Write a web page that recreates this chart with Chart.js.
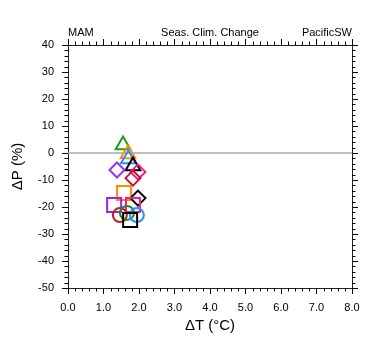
<!DOCTYPE html>
<html>
<head>
<meta charset="utf-8">
<script src="https://cdn.jsdelivr.net/npm/chart.js@4/dist/chart.umd.min.js"></script>
<style>
  html, body { margin: 0; padding: 0; background: #fff; }
  #wrap { width: 380px; height: 355px; position: relative; }
</style>
</head>
<body>
<div id="wrap"><canvas id="c"></canvas></div>
<script>
// ---- data ----
const deltaT = [1.55, 1.69, 1.70, 1.83, 1.38, 1.97, 1.83, 1.58, 1.97, 1.30, 1.83, 1.46, 1.66, 1.94, 1.75];
const deltaP = [3.0, -0.4, -2.2, -4.8, -6.3, -7.0, -9.3, -14.8, -16.7, -19.3, -19.3, -23.0, -22.2, -23.0, -24.8];
const markerShapes = ['triangle','triangle','triangle','triangle','rectRot','rectRot','rectRot','rect','rectRot','rect','rect','circle','circle','circle','rect'];
const markerColors = ['#229922','#ff8c00','#1e90ff','#000000','#a030f0','#ff1493','#c41230','#ff8c00','#000000','#a020f0','#ff1493','#b22222','#228b22','#1e90ff','#000000'];
const zeroLineX = [0, 8];
const zeroLineY = [0, 0];
const xTickRange = [0, 8];
const yTickRange = [-50, 40];
const headerLeft = 'MAM';
const headerCenter = 'Seas. Clim. Change';
const headerRight = 'PacificSW';
const xTitle = '\u0394T (\u00B0C)';
const yTitle = '\u0394P (%)';

const FONT = '"Liberation Sans", Arial, Helvetica, sans-serif';
const radiusFor = s => ({triangle: 8.5, rectRot: 7.5, rect: 9.9, circle: 7}[s]);

const points = deltaT.map((x, i) => ({x: x, y: deltaP[i]}));
const zeroLine = zeroLineX.map((x, i) => ({x: x, y: zeroLineY[i]}));

const minorTicks = {
  id: 'minorTicks',
  afterDraw(chart) {
    const ctx = chart.ctx;
    const a = chart.chartArea;
    ctx.save();
    ctx.strokeStyle = '#000';
    ctx.lineWidth = 1;
    const len = 3.5;
    ctx.beginPath();
    const xs = chart.scales.x;
    for (let v = xTickRange[0]; v <= xTickRange[1] + 1e-9; v += 0.2) {
      const r = Math.round(v * 5);
      if (r % 5 === 0) continue;
      const px = Math.round(xs.getPixelForValue(v)) + 0.5;
      ctx.moveTo(px, a.bottom); ctx.lineTo(px, a.bottom + len);
      ctx.moveTo(px, a.top); ctx.lineTo(px, a.top - len);
    }
    const ys = chart.scales.y;
    for (let v = yTickRange[0]; v <= yTickRange[1]; v += 2) {
      if (v % 10 === 0) continue;
      const py = Math.round(ys.getPixelForValue(v)) + 0.5;
      ctx.moveTo(a.left, py); ctx.lineTo(a.left - len, py);
      ctx.moveTo(a.right, py); ctx.lineTo(a.right + len, py);
    }
    ctx.stroke();
    // header texts
    ctx.fillStyle = '#000';
    ctx.font = '11px ' + FONT;
    ctx.textBaseline = 'alphabetic';
    ctx.textAlign = 'left';
    ctx.fillText(headerLeft, a.left, 36);
    ctx.textAlign = 'center';
    ctx.fillText(headerCenter, (a.left + a.right) / 2, 36);
    ctx.textAlign = 'right';
    ctx.fillText(headerRight, a.right, 36);
    ctx.restore();
  }
};

const gridOpts = {
  display: true, drawOnChartArea: false, drawTicks: true,
  tickLength: 6, color: '#000', tickColor: '#000', lineWidth: 1
};
const borderOpts = { display: true, color: '#222', width: 1 };

new Chart(document.getElementById('c'), {
  type: 'scatter',
  data: {
    datasets: [
      {
        data: points,
        pointStyle: markerShapes,
        pointRadius: markerShapes.map(radiusFor),
        pointBorderColor: markerColors,
        pointBackgroundColor: 'rgba(0,0,0,0)',
        pointBorderWidth: 2,
        showLine: false
      },
      {
        data: zeroLine,
        showLine: true,
        borderColor: '#a8a8a8',
        borderWidth: 1.5,
        pointRadius: 0
      }
    ]
  },
  options: {
    responsive: true,
    maintainAspectRatio: false,
    animation: false,
    layout: { padding: 0 },
    plugins: { legend: { display: false }, tooltip: { enabled: false }, title: { display: false } },
    scales: {
      x: {
        type: 'linear', position: 'bottom', min: xTickRange[0], max: xTickRange[1],
        afterFit: s => { s.height = 67; },
        grid: gridOpts, border: borderOpts,
        ticks: { stepSize: 1, color: '#000', padding: 7, maxRotation: 0,
                 font: { family: FONT, size: 11 }, callback: v => Number(v).toFixed(1) },
        title: { display: true, text: xTitle, color: '#000', font: { family: FONT, size: 15 }, padding: { top: 0, bottom: 20 } }
      },
      x2: {
        type: 'linear', position: 'top', min: xTickRange[0], max: xTickRange[1],
        afterFit: s => { s.height = 45; },
        grid: gridOpts, border: borderOpts,
        ticks: { stepSize: 1, display: false }
      },
      y: {
        type: 'linear', position: 'left', min: yTickRange[0], max: yTickRange[1],
        afterFit: s => { s.width = 68; },
        grid: gridOpts, border: borderOpts,
        ticks: { stepSize: 10, color: '#000', padding: 8, font: { family: FONT, size: 11 } },
        title: { display: true, text: yTitle, color: '#000', font: { family: FONT, size: 15 }, padding: { top: 9, bottom: 0 } }
      },
      y2: {
        type: 'linear', position: 'right', min: yTickRange[0], max: yTickRange[1],
        afterFit: s => { s.width = 28; },
        grid: gridOpts, border: borderOpts,
        ticks: { stepSize: 10, display: false }
      }
    }
  },
  plugins: [minorTicks]
});
</script>
</body>
</html>
